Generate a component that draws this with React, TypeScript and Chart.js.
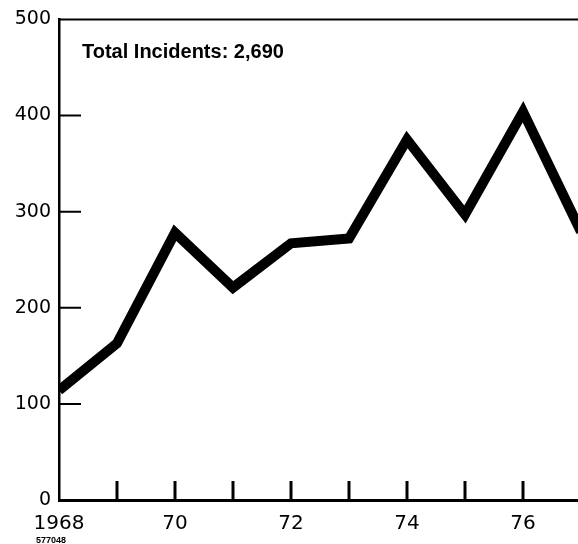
import React, { useEffect, useRef } from "react";
import { Chart, registerables } from "chart.js";

Chart.register(...registerables);

const years = [1968, 1969, 1970, 1971, 1972, 1973, 1974, 1975, 1976, 1977];
const incidents = [114, 163, 278, 221, 267, 272, 375, 297, 404, 279];
const xTickLabels: Record<number, string> = {
  1968: "1968",
  1970: "70",
  1972: "72",
  1974: "74",
  1976: "76",
};
const yTickValues = [0, 100, 200, 300, 400, 500];
const innerYTicks = [100, 200, 300, 400];
const innerXTicks = [1969, 1970, 1971, 1972, 1973, 1974, 1975, 1976];
const titleText = "Total Incidents: 2,690";
const footnoteText = "577048";

export default function App() {
  const ref = useRef<HTMLCanvasElement | null>(null);

  useEffect(() => {
    if (!ref.current) return;

    const frame = {
      id: "frame",
      afterDatasetsDraw(chart: any) {
        const { ctx, chartArea: a, scales } = chart;
        const x = scales.x;
        const y = scales.y;
        ctx.save();
        ctx.strokeStyle = "#000";
        ctx.fillStyle = "#000";
        ctx.lineCap = "butt";
        // top frame line
        ctx.lineWidth = 2;
        ctx.beginPath();
        ctx.moveTo(a.left, a.top);
        ctx.lineTo(a.right, a.top);
        ctx.stroke();
        // inward y ticks
        ctx.beginPath();
        for (const v of innerYTicks) {
          const py = y.getPixelForValue(v);
          ctx.moveTo(a.left, py);
          ctx.lineTo(a.left + 22, py);
        }
        ctx.stroke();
        // inward x ticks
        ctx.lineWidth = 3;
        ctx.beginPath();
        for (const yr of innerXTicks) {
          const px = x.getPixelForValue(yr);
          ctx.moveTo(px, a.bottom);
          ctx.lineTo(px, a.bottom - 19);
        }
        ctx.stroke();
        // title
        ctx.font = "bold 20px 'Liberation Sans', Arial, sans-serif";
        ctx.textAlign = "left";
        ctx.textBaseline = "alphabetic";
        ctx.fillText(titleText, a.left + 23, a.top + 39);
        // footnote
        ctx.font = "bold 9px 'Liberation Sans', Arial, sans-serif";
        ctx.fillText(footnoteText, 36, 543);
        ctx.restore();
      },
    };

    const chart = new Chart(ref.current, {
      type: "line",
      data: {
        datasets: [
          {
            data: years.map((yr, i) => ({ x: yr, y: incidents[i] })),
            borderColor: "#000",
            borderWidth: 10,
            borderJoinStyle: "miter",
            borderCapStyle: "butt",
            pointRadius: 0,
            tension: 0,
            fill: false,
            clip: { left: 0, right: 0, top: 12, bottom: 0 },
          } as any,
        ],
      },
      options: {
        animation: false,
        responsive: true,
        maintainAspectRatio: false,
        layout: { padding: { top: 18, right: 0, left: 0, bottom: 0 } },
        plugins: {
          legend: { display: false },
          tooltip: { enabled: false },
          title: { display: false },
        },
        scales: {
          x: {
            type: "linear",
            min: 1968,
            max: 1968 + 519 / 58,
            afterFit: (s: any) => {
              s.height = 44;
            },
            afterBuildTicks: (s: any) => {
              s.ticks = Object.keys(xTickLabels).map((k) => ({ value: Number(k) }));
            },
            grid: { display: false, drawTicks: false },
            border: { display: true, color: "#000", width: 3 },
            ticks: {
              color: "#000",
              padding: 12,
              maxRotation: 0,
              autoSkip: false,
              font: { family: "'DejaVu Sans', sans-serif", size: 20 },
              callback: (v: any) => xTickLabels[Number(v)] ?? "",
            },
          },
          y: {
            type: "linear",
            min: 0,
            max: 500,
            afterFit: (s: any) => {
              s.width = 59;
            },
            afterBuildTicks: (s: any) => {
              s.ticks = yTickValues.map((v) => ({ value: v }));
            },
            grid: { display: false, drawTicks: false },
            border: { display: true, color: "#000", width: 2.5 },
            ticks: {
              color: "#000",
              padding: 8,
              font: { family: "'DejaVu Sans', sans-serif", size: 19 },
            },
          },
        },
      },
      plugins: [frame],
    } as any);

    return () => chart.destroy();
  }, []);

  return (
    <div style={{ position: "fixed", left: 0, top: 0, width: 578, height: 544, background: "#fff" }}>
      <canvas ref={ref} />
    </div>
  );
}
